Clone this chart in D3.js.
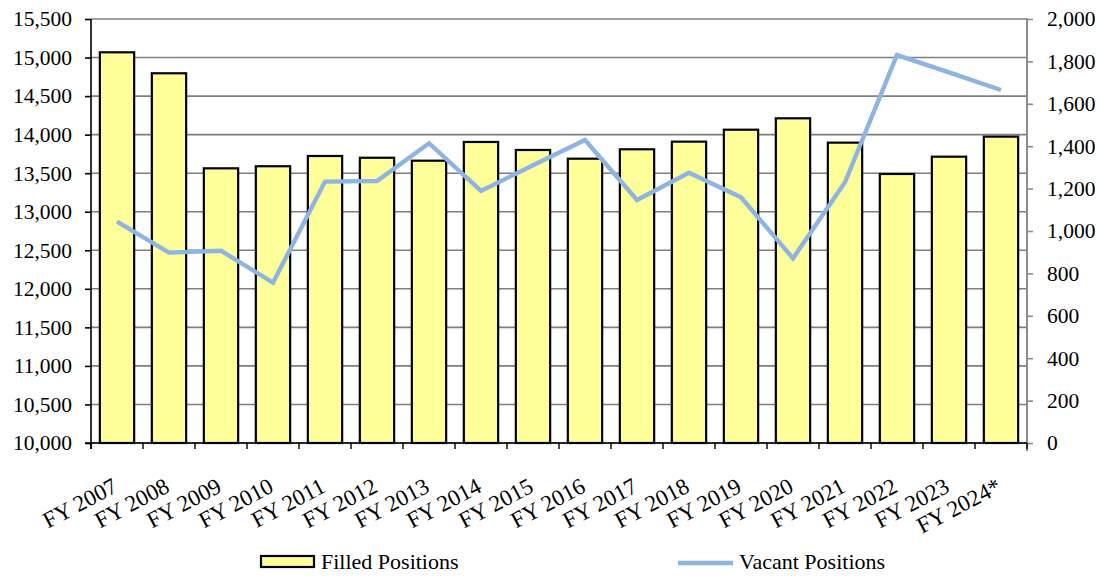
<!DOCTYPE html>
<html>
<head>
<meta charset="utf-8">
<script src="https://cdn.jsdelivr.net/npm/d3@7"></script>
<style>
  html, body { margin: 0; padding: 0; background: #fff; }
  svg { display: block; }
</style>
</head>
<body>
<svg id="chart" width="1101" height="576"></svg>
<script>
// Fiscal years shown on the category axis
const years = ["FY 2007", "FY 2008", "FY 2009", "FY 2010", "FY 2011", "FY 2012",
  "FY 2013", "FY 2014", "FY 2015", "FY 2016", "FY 2017", "FY 2018",
  "FY 2019", "FY 2020", "FY 2021", "FY 2022", "FY 2023", "FY 2024*"];

// Filled positions (left axis)
const filled = [15068, 14796, 13563, 13590, 13723, 13700, 13662, 13905, 13801,
  13688, 13810, 13909, 14064, 14212, 13896, 13490, 13714, 13974];

// Vacant positions (right axis)
const vacant = [1044, 898, 907, 756, 1233, 1236, 1414, 1189, 1310,
  1429, 1146, 1275, 1159, 871, 1230, 1830, 1748, 1665];

// Axis tick values
const leftTicks = [10000, 10500, 11000, 11500, 12000, 12500, 13000, 13500, 14000, 14500, 15000, 15500];
const rightTicks = [0, 200, 400, 600, 800, 1000, 1200, 1400, 1600, 1800, 2000];

const FONT = '"Liberation Serif"';
const svg = d3.select("#chart");
const m = { left: 91, right: 1027, top: 19, bottom: 443 };

const x = d3.scaleBand().domain(years).range([m.left, m.right]).paddingInner(0.34).paddingOuter(0.17);
const band = d3.scaleBand().domain(years).range([m.left, m.right]);
const yL = d3.scaleLinear().domain([10000, 15500]).range([m.bottom, m.top]);
const yR = d3.scaleLinear().domain([0, 2000]).range([m.bottom, m.top]);
const fmt = d3.format(",");

// Horizontal gridlines at the left-axis ticks
svg.append("g")
  .selectAll("line").data(leftTicks).join("line")
  .attr("x1", m.left).attr("x2", m.right)
  .attr("y1", d => yL(d)).attr("y2", d => yL(d))
  .attr("stroke", "#7f7f7f").attr("stroke-width", 1.6);

// Bars
svg.append("g")
  .selectAll("rect").data(filled).join("rect")
  .attr("x", (d, i) => x(years[i]))
  .attr("width", x.bandwidth())
  .attr("y", d => yL(d))
  .attr("height", d => yL(10000) - yL(d))
  .attr("fill", "#ffff99")
  .attr("stroke", "#000").attr("stroke-width", 2.2);

// Right axis (gray)
const gR = svg.append("g").attr("transform", `translate(${m.right},0)`)
  .call(d3.axisRight(yR).tickValues(rightTicks).tickFormat(fmt).tickSize(6).tickPadding(14));
gR.select(".domain").attr("stroke", "#8c8c8c").attr("stroke-width", 2).attr("d", `M0,${m.top - 1}V${m.bottom + 8}`);
gR.selectAll(".tick line").attr("stroke", "#8c8c8c").attr("stroke-width", 1.6);
gR.selectAll("text").style("font-family", FONT).style("font-size", "21.5px").attr("fill", "#000");

// Left axis
const gL = svg.append("g").attr("transform", `translate(${m.left},0)`)
  .call(d3.axisLeft(yL).tickValues(leftTicks).tickFormat(fmt).tickSize(6).tickPadding(13));
gL.select(".domain").attr("stroke", "#000").attr("stroke-width", 1.6).attr("d", `M0,${m.top}V${m.bottom + 6}`);
gL.selectAll(".tick line").attr("stroke", "#000").attr("stroke-width", 1.6);
gL.selectAll("text").style("font-family", FONT).style("font-size", "21.5px").attr("fill", "#000");

// Bottom axis with ticks between categories
const gB = svg.append("g").attr("transform", `translate(0,${m.bottom})`);
gB.append("line").attr("x1", m.left - 6).attr("x2", m.right).attr("y1", 0).attr("y2", 0)
  .attr("stroke", "#000").attr("stroke-width", 1.6);
gB.selectAll("line.tk").data(years.concat(["end"])).join("line").attr("class", "tk")
  .attr("x1", (d, i) => m.left + i * band.bandwidth()).attr("x2", (d, i) => m.left + i * band.bandwidth())
  .attr("y1", 0).attr("y2", 6)
  .attr("stroke", "#000").attr("stroke-width", 1.4);
gB.selectAll("text").data(years).join("text")
  .attr("transform", d => `translate(${band(d) + band.bandwidth() / 2 + 2},${48}) rotate(-28)`)
  .attr("text-anchor", "end")
  .style("font-family", FONT).style("font-size", "23px")
  .attr("fill", "#000")
  .text(d => d);

// Vacant positions line
const line = d3.line()
  .x((d, i) => band(years[i]) + band.bandwidth() / 2)
  .y(d => yR(d));
svg.append("path").datum(vacant)
  .attr("d", line)
  .attr("fill", "none")
  .attr("stroke", "#8db4e2").attr("stroke-width", 4.4)
  .attr("stroke-linejoin", "miter");

// Legend
const lg = svg.append("g");
lg.append("rect").attr("x", 261).attr("y", 556).attr("width", 53).attr("height", 11)
  .attr("fill", "#ffff99").attr("stroke", "#000").attr("stroke-width", 2.2);
lg.append("text").attr("x", 321).attr("y", 569).style("font-family", FONT).style("font-size", "22px")
  .attr("fill", "#000").text("Filled Positions");
lg.append("line").attr("x1", 678).attr("x2", 733).attr("y1", 563).attr("y2", 563)
  .attr("stroke", "#8db4e2").attr("stroke-width", 4.4);
lg.append("text").attr("x", 739).attr("y", 569).style("font-family", FONT).style("font-size", "22px")
  .attr("fill", "#000").text("Vacant Positions");
</script>
</body>
</html>
